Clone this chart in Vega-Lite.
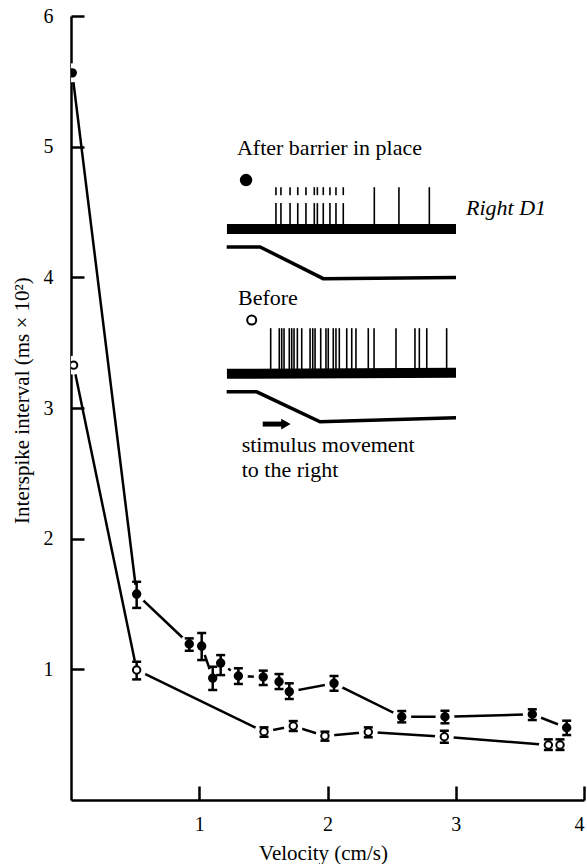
{
  "$schema": "https://vega.github.io/schema/vega-lite/v6.json",
  "width": 513,
  "height": 784,
  "autosize": {"type": "none"},
  "padding": {"left": 71, "top": 16, "right": 3, "bottom": 64},
  "background": "white",
  "config": {
    "view": {"stroke": null},
    "font": "Liberation Serif",
    "axis": {
      "grid": false,
      "domainColor": "black",
      "tickColor": "black",
      "labelColor": "black",
      "titleColor": "black",
      "labelFont": "Liberation Serif",
      "titleFont": "Liberation Serif",
      "labelFontSize": 20,
      "titleFontSize": 21,
      "titleFontWeight": "normal",
      "domainWidth": 2.5,
      "tickWidth": 2.5,
      "zindex": 1
    },
    "axisX": {"tickSize": -14, "labelPadding": 28, "titleX": 252, "titleY": 53, "titleBaseline": "middle"},
    "axisY": {"tickSize": -13, "labelPadding": 31, "titleX": -49, "titleY": 384, "titleBaseline": "middle"}
  },
  "datasets": {
    "main": [
      {"series": "After", "x": 0.01, "y": 5.565, "lo": null, "hi": null},
      {"series": "After", "x": 0.512, "y": 1.576, "lo": 1.47, "hi": 1.67},
      {"series": "After", "x": 0.922, "y": 1.194, "lo": 1.142, "hi": 1.237},
      {"series": "After", "x": 1.019, "y": 1.178, "lo": 1.071, "hi": 1.278},
      {"series": "After", "x": 1.105, "y": 0.933, "lo": 0.842, "hi": 1.02},
      {"series": "After", "x": 1.167, "y": 1.048, "lo": 0.956, "hi": 1.109},
      {"series": "After", "x": 1.305, "y": 0.949, "lo": 0.888, "hi": 1.008},
      {"series": "After", "x": 1.499, "y": 0.941, "lo": 0.88, "hi": 0.99},
      {"series": "After", "x": 1.622, "y": 0.905, "lo": 0.849, "hi": 0.964},
      {"series": "After", "x": 1.702, "y": 0.829, "lo": 0.773, "hi": 0.893},
      {"series": "After", "x": 2.051, "y": 0.893, "lo": 0.836, "hi": 0.949},
      {"series": "After", "x": 2.579, "y": 0.637, "lo": 0.594, "hi": 0.681},
      {"series": "After", "x": 2.916, "y": 0.637, "lo": 0.587, "hi": 0.683},
      {"series": "After", "x": 3.597, "y": 0.656, "lo": 0.612, "hi": 0.694},
      {"series": "After", "x": 3.865, "y": 0.553, "lo": 0.497, "hi": 0.607},
      {"series": "Before", "x": 0.02, "y": 3.328, "lo": null, "hi": null},
      {"series": "Before", "x": 0.512, "y": 0.995, "lo": 0.923, "hi": 1.058},
      {"series": "Before", "x": 1.505, "y": 0.523, "lo": 0.484, "hi": 0.556},
      {"series": "Before", "x": 1.733, "y": 0.566, "lo": 0.528, "hi": 0.604},
      {"series": "Before", "x": 1.98, "y": 0.49, "lo": 0.454, "hi": 0.523},
      {"series": "Before", "x": 2.318, "y": 0.52, "lo": 0.48, "hi": 0.556},
      {"series": "Before", "x": 2.911, "y": 0.484, "lo": 0.438, "hi": 0.53},
      {"series": "Before", "x": 3.722, "y": 0.421, "lo": 0.383, "hi": 0.464},
      {"series": "Before", "x": 3.813, "y": 0.421, "lo": 0.383, "hi": 0.464}
    ],
    "traces": [
      {"trace": "base1", "kind": "baseline", "x": 1.216, "y": 4.369},
      {"trace": "base1", "kind": "baseline", "x": 3.002, "y": 4.369},
      {"trace": "base2", "kind": "baseline", "x": 1.216, "y": 3.262},
      {"trace": "base2", "kind": "baseline", "x": 3.002, "y": 3.27},
      {"trace": "stim1", "kind": "stimulus", "x": 1.214, "y": 4.233},
      {"trace": "stim1", "kind": "stimulus", "x": 1.474, "y": 4.233},
      {"trace": "stim1", "kind": "stimulus", "x": 1.967, "y": 3.99},
      {"trace": "stim1", "kind": "stimulus", "x": 3.002, "y": 3.999},
      {"trace": "stim2", "kind": "stimulus", "x": 1.214, "y": 3.124},
      {"trace": "stim2", "kind": "stimulus", "x": 1.448, "y": 3.124},
      {"trace": "stim2", "kind": "stimulus", "x": 1.942, "y": 2.894},
      {"trace": "stim2", "kind": "stimulus", "x": 3.002, "y": 2.925},
      {"trace": "arrow", "kind": "arrow", "x": 1.495, "y": 2.877},
      {"trace": "arrow", "kind": "arrow", "x": 1.65, "y": 2.877}
    ],
    "spikes": [
      {"x": 1.598, "y": 4.369, "y2": 4.568}, {"x": 1.598, "y": 4.629, "y2": 4.69},
      {"x": 1.637, "y": 4.369, "y2": 4.568}, {"x": 1.637, "y": 4.629, "y2": 4.69},
      {"x": 1.708, "y": 4.369, "y2": 4.568}, {"x": 1.708, "y": 4.629, "y2": 4.69},
      {"x": 1.768, "y": 4.369, "y2": 4.568}, {"x": 1.768, "y": 4.629, "y2": 4.69},
      {"x": 1.832, "y": 4.369, "y2": 4.568}, {"x": 1.832, "y": 4.629, "y2": 4.69},
      {"x": 1.897, "y": 4.369, "y2": 4.568}, {"x": 1.897, "y": 4.629, "y2": 4.69},
      {"x": 1.921, "y": 4.369, "y2": 4.568}, {"x": 1.921, "y": 4.629, "y2": 4.69},
      {"x": 1.967, "y": 4.369, "y2": 4.568}, {"x": 1.967, "y": 4.629, "y2": 4.69},
      {"x": 2.019, "y": 4.369, "y2": 4.568}, {"x": 2.019, "y": 4.629, "y2": 4.69},
      {"x": 2.066, "y": 4.369, "y2": 4.568}, {"x": 2.066, "y": 4.629, "y2": 4.69},
      {"x": 2.123, "y": 4.369, "y2": 4.568}, {"x": 2.123, "y": 4.629, "y2": 4.69},
      {"x": 2.365, "y": 4.369, "y2": 4.69},
      {"x": 2.557, "y": 4.369, "y2": 4.69},
      {"x": 2.794, "y": 4.369, "y2": 4.69},
      {"x": 1.557, "y": 3.259, "y2": 3.611},
      {"x": 1.624, "y": 3.259, "y2": 3.611},
      {"x": 1.643, "y": 3.259, "y2": 3.611},
      {"x": 1.661, "y": 3.259, "y2": 3.611},
      {"x": 1.702, "y": 3.259, "y2": 3.611},
      {"x": 1.721, "y": 3.259, "y2": 3.611},
      {"x": 1.739, "y": 3.259, "y2": 3.611},
      {"x": 1.765, "y": 3.259, "y2": 3.611},
      {"x": 1.799, "y": 3.259, "y2": 3.611},
      {"x": 1.864, "y": 3.259, "y2": 3.611},
      {"x": 1.885, "y": 3.259, "y2": 3.611},
      {"x": 1.903, "y": 3.259, "y2": 3.611},
      {"x": 1.947, "y": 3.259, "y2": 3.611},
      {"x": 1.988, "y": 3.259, "y2": 3.611},
      {"x": 2.006, "y": 3.259, "y2": 3.611},
      {"x": 2.045, "y": 3.259, "y2": 3.611},
      {"x": 2.066, "y": 3.259, "y2": 3.611},
      {"x": 2.092, "y": 3.259, "y2": 3.611},
      {"x": 2.15, "y": 3.259, "y2": 3.611},
      {"x": 2.189, "y": 3.259, "y2": 3.611},
      {"x": 2.222, "y": 3.259, "y2": 3.611},
      {"x": 2.318, "y": 3.259, "y2": 3.611},
      {"x": 2.363, "y": 3.259, "y2": 3.611},
      {"x": 2.534, "y": 3.259, "y2": 3.611},
      {"x": 2.682, "y": 3.259, "y2": 3.611},
      {"x": 2.716, "y": 3.259, "y2": 3.611},
      {"x": 2.774, "y": 3.259, "y2": 3.611},
      {"x": 2.929, "y": 3.259, "y2": 3.611}
    ],
    "insetMarks": [
      {"symbol": "filled", "x": 1.365, "y": 4.744},
      {"symbol": "open", "x": 1.409, "y": 3.673},
      {"symbol": "arrow", "x": 1.672, "y": 2.877}
    ],
    "notes": [
      {"label": "After barrier in place", "x": 1.294, "y": 4.988, "italic": false},
      {"label": "Right D1", "x": 3.08, "y": 4.53, "italic": true},
      {"label": "Before", "x": 1.302, "y": 3.841, "italic": false},
      {"label": "stimulus movement", "x": 1.331, "y": 2.716, "italic": false},
      {"label": "to the right", "x": 1.331, "y": 2.525, "italic": false}
    ]
  },
  "encoding": {
    "x": {"field": "x", "type": "quantitative", "scale": {"domain": [0, 4], "nice": false, "zero": false}, "title": "Velocity (cm/s)", "axis": {"values": [1, 2, 3, 4]}},
    "y": {"field": "y", "type": "quantitative", "scale": {"domain": [0, 6], "nice": false, "zero": false}, "title": "Interspike interval (ms × 10²)", "axis": {"values": [1, 2, 3, 4, 5, 6]}}
  },
  "layer": [
    {
      "data": {"name": "main"},
      "mark": {"type": "line", "color": "black", "strokeWidth": 2.5},
      "encoding": {"detail": {"field": "series"}}
    },
    {
      "data": {"name": "main"},
      "mark": {"type": "point", "shape": "circle", "filled": true, "fill": "white", "stroke": "white", "strokeWidth": 0, "opacity": 1, "size": 360, "clip": true}
    },
    {
      "data": {"name": "main"},
      "mark": {"type": "rule", "color": "black", "strokeWidth": 2.5},
      "encoding": {
        "y": {"field": "lo", "type": "quantitative", "title": "Interspike interval (ms × 10²)"},
        "y2": {"field": "hi"}
      }
    },
    {
      "data": {"name": "main"},
      "mark": {"type": "tick", "orient": "horizontal", "size": 9, "thickness": 2.5, "color": "black", "opacity": 1},
      "encoding": {"y": {"field": "lo", "type": "quantitative", "title": "Interspike interval (ms × 10²)"}}
    },
    {
      "data": {"name": "main"},
      "mark": {"type": "tick", "orient": "horizontal", "size": 9, "thickness": 2.5, "color": "black", "opacity": 1},
      "encoding": {"y": {"field": "hi", "type": "quantitative", "title": "Interspike interval (ms × 10²)"}}
    },
    {
      "data": {"name": "main"},
      "mark": {"type": "point", "shape": "circle", "filled": true, "stroke": "black", "strokeWidth": 2, "size": 55, "opacity": 1, "clip": true},
      "encoding": {
        "fill": {"field": "series", "type": "nominal", "scale": {"domain": ["After", "Before"], "range": ["black", "white"]}, "legend": null}
      }
    },
    {
      "data": {"name": "traces"},
      "transform": [{"filter": "datum.kind === 'baseline'"}],
      "mark": {"type": "line", "color": "black", "strokeWidth": 10, "strokeCap": "butt"},
      "encoding": {"detail": {"field": "trace"}}
    },
    {
      "data": {"name": "traces"},
      "transform": [{"filter": "datum.kind === 'stimulus'"}],
      "mark": {"type": "line", "color": "black", "strokeWidth": 3.5, "strokeCap": "butt"},
      "encoding": {"detail": {"field": "trace"}}
    },
    {
      "data": {"name": "traces"},
      "transform": [{"filter": "datum.kind === 'arrow'"}],
      "mark": {"type": "line", "color": "black", "strokeWidth": 5, "strokeCap": "butt"},
      "encoding": {"detail": {"field": "trace"}}
    },
    {
      "data": {"name": "spikes"},
      "mark": {"type": "rule", "color": "black", "strokeWidth": 1.6},
      "encoding": {"y2": {"field": "y2"}}
    },
    {
      "data": {"name": "insetMarks"},
      "mark": {"type": "point", "filled": true, "stroke": "black", "strokeWidth": 2, "opacity": 1},
      "encoding": {
        "shape": {"field": "symbol", "type": "nominal", "scale": {"domain": ["filled", "open", "arrow"], "range": ["circle", "circle", "triangle-right"]}, "legend": null},
        "fill": {"field": "symbol", "type": "nominal", "scale": {"domain": ["filled", "open", "arrow"], "range": ["black", "white", "black"]}, "legend": null},
        "size": {"field": "symbol", "type": "nominal", "scale": {"domain": ["filled", "open", "arrow"], "range": [110, 55, 70]}, "legend": null}
      }
    },
    {
      "data": {"name": "notes"},
      "transform": [{"filter": "!datum.italic"}],
      "mark": {"type": "text", "align": "left", "baseline": "middle", "font": "Liberation Serif", "fontSize": 22, "color": "black"},
      "encoding": {"text": {"field": "label"}}
    },
    {
      "data": {"name": "notes"},
      "transform": [{"filter": "datum.italic"}],
      "mark": {"type": "text", "align": "left", "baseline": "middle", "font": "Liberation Serif", "fontSize": 22, "fontStyle": "italic", "color": "black"},
      "encoding": {"text": {"field": "label"}}
    }
  ]
}
